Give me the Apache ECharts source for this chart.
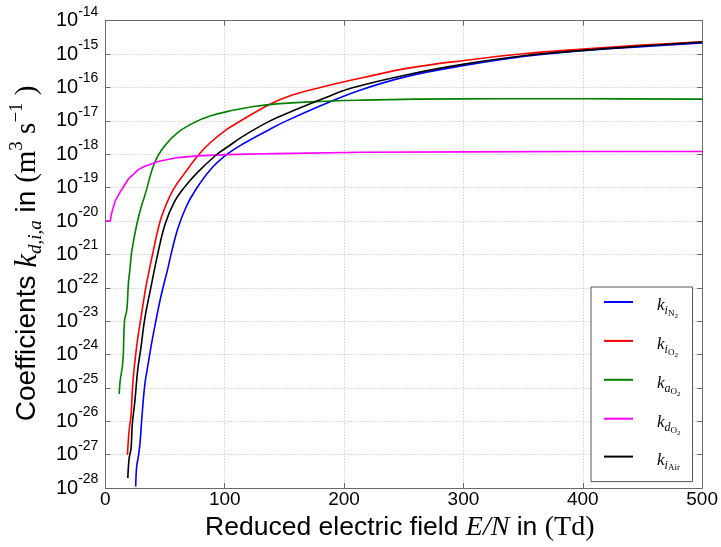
<!DOCTYPE html>
<html><head><meta charset="utf-8">
<script src="https://cdn.jsdelivr.net/npm/echarts@6/dist/echarts.min.js"></script>
<style>html,body{margin:0;padding:0;background:#fff}#c{width:721px;height:547px}</style>
</head><body><div id="c"></div><script>
// ---- data (y values are log10 of k in m^3 s^-1) ----
const xTicks = [0, 100, 200, 300, 400, 500];
const yExponents = [-28, -27, -26, -25, -24, -23, -22, -21, -20, -19, -18, -17, -16, -15, -14];

const seriesNames = ['k_i_N2', 'k_i_O2', 'k_a_O2', 'k_d_O2', 'k_i_Air'];

const eN2 = [25.4, 26.2, 27.6, 29.0, 30.4, 33.1, 35.8, 38.6, 42.8, 46.9, 52.4, 55.0, 60.5, 67.6, 75.0, 88.3, 102, 115.8, 137.9, 151.7, 184.8, 215.1, 253.8, 300.6, 350.3, 400, 449.5, 500];
const logkN2 = [-27.95, -27.36, -27.06, -26.66, -25.97, -24.88, -24.29, -23.69, -22.90, -22.20, -21.41, -21.0, -20.25, -19.58, -19.1, -18.45, -18.0, -17.68, -17.25, -17.0, -16.48, -16.06, -15.66, -15.34, -15.07, -14.90, -14.78, -14.67];

const eO2 = [18.5, 19.9, 21.5, 22.6, 24.2, 27.0, 29.8, 33.8, 36.6, 39.5, 45.5, 51.0, 57.0, 66.2, 78.5, 88.3, 102, 111, 137.9, 157.2, 180, 215.1, 253.8, 300.6, 350.3, 400, 449.5, 500];
const logkO2 = [-27.0, -26.27, -25.82, -25.08, -24.38, -23.54, -22.90, -22.0, -21.5, -21.0, -20.05, -19.5, -19.05, -18.58, -18.0, -17.64, -17.25, -17.05, -16.50, -16.22, -16.0, -15.71, -15.42, -15.19, -14.99, -14.85, -14.73, -14.63];

const eAttO2 = [11.6, 12.4, 14.3, 15.1, 16.0, 18.0, 19.3, 20.7, 22.1, 26.2, 30.4, 33.1, 41.4, 49.6, 60.6, 74.5, 88.3, 104.8, 124.1, 143.4, 171, 215, 260, 330, 400, 500];
const logkAttO2 = [-25.18, -24.78, -24.33, -23.94, -23.0, -22.65, -21.86, -21.41, -20.91, -20.12, -19.53, -19.23, -18.24, -17.75, -17.35, -17.05, -16.85, -16.70, -16.57, -16.49, -16.43, -16.38, -16.35, -16.34, -16.34, -16.35];

const eDetO2 = [0, 4.1, 5.0, 6.5, 8.3, 12.4, 19.3, 27.6, 33.1, 44.1, 60.6, 77.2, 102, 143.4, 215, 300, 400, 500];
const logkDetO2 = [-20, -20, -19.8, -19.6, -19.4, -19.13, -18.74, -18.46, -18.36, -18.22, -18.10, -18.05, -18.01, -17.98, -17.94, -17.93, -17.92, -17.92];

const eAir = [18.8, 19.9, 21.5, 22.6, 24.8, 27.0, 29.8, 33.1, 37.5, 43.8, 50.0, 57.5, 66.0, 77.0, 93.5, 102, 115.8, 138, 157.2, 184.8, 207, 253.8, 300.6, 350.3, 400, 449.5, 500];
const logkAir = [-27.70, -27.11, -26.81, -26.07, -25.37, -24.48, -23.79, -22.90, -22.1, -21.0, -20.1, -19.45, -19.0, -18.55, -18.0, -17.79, -17.45, -17.0, -16.70, -16.30, -16.01, -15.61, -15.30, -15.05, -14.89, -14.76, -14.64];

const seriesColors = ['#0000ff', '#ff0000', '#008000', '#ff00ff', '#000000'];
const legendText = {
  'k_i_N2': '{k|k}{i|i}{s|N}{t|2}',
  'k_i_O2': '{k|k}{i|i}{s|O}{t|2}',
  'k_a_O2': '{k|k}{i|a}{s|O}{t|2}',
  'k_d_O2': '{k|k}{i|d}{s|O}{t|2}',
  'k_i_Air': '{k|k}{i|i}{s|Air}'
};

function zip(a, b) { return a.map((v, i) => [v, b[i]]); }
const allX = [eN2, eO2, eAttO2, eDetO2, eAir];
const allY = [logkN2, logkO2, logkAttO2, logkDetO2, logkAir];

const SANS = 'Liberation Sans';
const SERIF = 'Liberation Serif';
const frameColor = '#6a6a6a';

const chart = echarts.init(document.getElementById('c'), null, {renderer: 'canvas'});
const series = seriesNames.map((n, i) => ({
  name: n, type: 'line', symbol: 'none', showSymbol: false,
  smooth: n === 'k_d_O2' ? false : 0.4,
  data: zip(allX[i], allY[i]),
  lineStyle: {color: seriesColors[i], width: 1.6},
  itemStyle: {color: seriesColors[i]},
  xAxisIndex: 0, yAxisIndex: 0, z: 3
}));

chart.setOption({
  animation: false,
  backgroundColor: '#ffffff',
  grid: {left: 100, right: 16.7, top: 20.7, bottom: 55.3, containLabel: false},
  xAxis: [{
    type: 'value', min: xTicks[0], max: xTicks[xTicks.length - 1], interval: 100,
    axisLine: {show: true, onZero: false, lineStyle: {color: frameColor, width: 1}},
    axisTick: {show: true, inside: true, length: 5, lineStyle: {color: frameColor}},
    axisLabel: {fontFamily: SANS, fontSize: 19, color: '#000', margin: 2, showMinLabel: true, showMaxLabel: true},
    splitLine: {show: true, lineStyle: {color: '#bdbdbd', type: [1, 2], width: 1}},
    name: '{t|Reduced electric field }{s|E/N}{t| in }{r|(Td)}',
    nameLocation: 'middle', nameGap: 17,
    nameTextStyle: {padding: [0, 8, 0, 0], rich: {
      t: {fontFamily: SANS, fontSize: 26.5, color: '#000', lineHeight: 30},
      s: {fontFamily: SERIF, fontStyle: 'italic', fontSize: 28, color: '#000', lineHeight: 30},
      r: {fontFamily: SERIF, fontSize: 28, color: '#000', lineHeight: 30}
    }}
  }, {
    type: 'value', position: 'top', min: 0, max: 500, interval: 100,
    axisLine: {show: true, onZero: false, lineStyle: {color: frameColor, width: 1}},
    axisTick: {show: true, inside: true, length: 5, lineStyle: {color: frameColor}},
    axisLabel: {show: false}, splitLine: {show: false}
  }],
  yAxis: [{
    type: 'value', min: yExponents[0], max: yExponents[yExponents.length - 1], interval: 1,
    axisLine: {show: true, onZero: false, lineStyle: {color: frameColor, width: 1}},
    axisTick: {show: true, inside: true, length: 5, lineStyle: {color: frameColor}},
    axisLabel: {
      margin: 7, showMinLabel: true, showMaxLabel: true,
      formatter: v => '{b|10}{e|' + Math.round(v) + '}',
      rich: {
        b: {fontFamily: SANS, fontSize: 20, color: '#000', lineHeight: 20},
        e: {fontFamily: SANS, fontSize: 14, color: '#000', lineHeight: 20, height: 1, padding: [0, 0, 18, 0]}
      }
    },
    splitLine: {show: true, lineStyle: {color: '#bdbdbd', type: [1, 2], width: 1}},
    name: '{t|Coefficients }{k|k}{sub|d,i,a}{t| in }{m|(m}{sup|3}{m| s}{sup|−1}{m| )}',
    nameLocation: 'middle', nameRotate: 90, nameGap: 48,
    nameTextStyle: {padding: [0, 0, 0, 2], rich: {
      t: {fontFamily: SANS, fontSize: 28, color: '#000', lineHeight: 34},
      k: {fontFamily: SERIF, fontStyle: 'italic', fontSize: 31, color: '#000', lineHeight: 34},
      sub: {fontFamily: SERIF, fontStyle: 'italic', fontSize: 19, color: '#000', lineHeight: 34, height: 10, padding: [16, 0, 0, 0]},
      m: {fontFamily: SERIF, fontSize: 29, color: '#000', lineHeight: 34},
      sup: {fontFamily: SERIF, fontSize: 19, color: '#000', lineHeight: 34, height: 10, padding: [0, 0, 20, 0]}
    }}
  }, {
    type: 'value', position: 'right', min: -28, max: -14, interval: 1,
    axisLine: {show: true, onZero: false, lineStyle: {color: frameColor, width: 1}},
    axisTick: {show: true, inside: true, length: 5, lineStyle: {color: frameColor}},
    axisLabel: {show: false}, splitLine: {show: false}
  }],
  legend: {
    orient: 'vertical', left: 591, top: 287,
    padding: [0.5, 12, 9, 13], itemGap: 6.9,
    itemWidth: 29, itemHeight: 12,
    backgroundColor: '#ffffff', borderColor: '#555', borderWidth: 1, borderRadius: 0,
    data: seriesNames.map(n => ({name: n, icon: 'path://M0,0 L29,0 L29,2 L0,2 Z'})),
    formatter: n => legendText[n],
    textStyle: {rich: {
      k: {fontFamily: SERIF, fontStyle: 'italic', fontSize: 17, color: '#000', lineHeight: 30, height: 14, padding: [8, 0, 0, 19]},
      i: {fontFamily: SERIF, fontStyle: 'italic', fontSize: 12, color: '#000', lineHeight: 30, height: 8, padding: [18, 0, 0, 0]},
      s: {fontFamily: SERIF, fontSize: 9, color: '#000', lineHeight: 30, height: 4, padding: [23, 0, 0, 0]},
      t: {fontFamily: SERIF, fontSize: 7, color: '#000', lineHeight: 30, height: 1, padding: [28, 0, 0, 0]}
    }}
  },
  series: series
});
</script></body></html>
